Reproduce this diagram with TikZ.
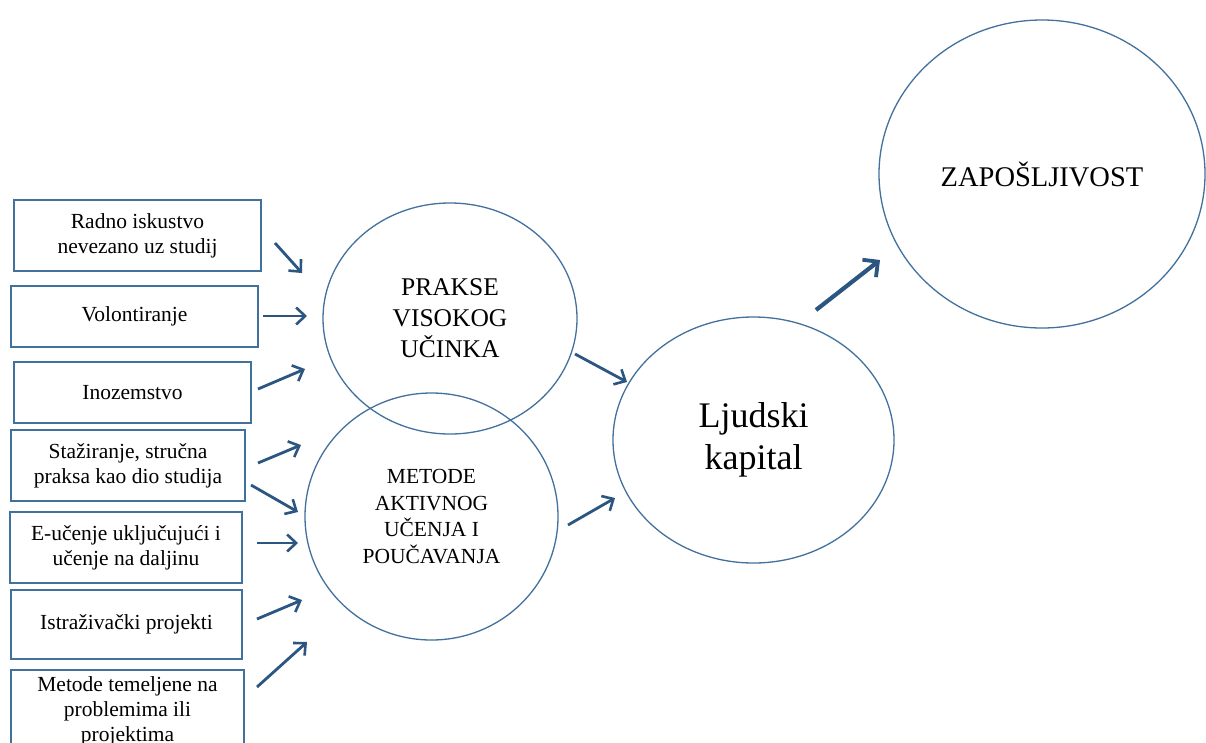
\documentclass[tikz,border=0pt]{standalone}
\usepackage{fontspec}
\setmainfont{Liberation Serif}
\usepackage{xcolor}
\usepackage{tikz}
\usetikzlibrary{arrows.meta,shapes.geometric}

\definecolor{edgeblue}{RGB}{65,113,156}
\definecolor{arrowblue}{RGB}{44,86,130}

\begin{document}
\begin{tikzpicture}[x=1pt, y=-1pt,
    box/.style={draw=edgeblue, line width=1.3pt, rectangle, align=center, inner sep=2pt,
                font=\fontsize{21.5}{25}\selectfont},
    bubble/.style={draw=edgeblue, line width=1.3pt, ellipse, inner sep=0pt, align=center},
    arr/.style={-{Straight Barb[length=9pt, width=17pt, line width=2.6pt]}, line width=2.8pt, arrowblue}]
\clip (0,0) rectangle (1206,742);
\fill[white] (0,0) rectangle (1206,742);
% LEFT: input boxes
\node[box, minimum width=247pt, minimum height=71pt] (radno) at (137.5,235.5) {Radno iskustvo\\nevezano uz studij};
\node[box, minimum width=247pt, minimum height=61pt] (volont) at (134.5,316.5) {Volontiranje};
\node[box, minimum width=237pt, minimum height=61pt] (inozem) at (132.5,392.5) {Inozemstvo};
\node[box, minimum width=234pt, minimum height=71pt] (staz) at (128,465.5) {Stažiranje, stručna\\praksa kao dio studija};
\node[box, minimum width=232pt, minimum height=71pt] (eucenje) at (126,547.5) {E-učenje uključujući i\\učenje na daljinu};
\node[box, minimum width=231pt, minimum height=69pt] (istraz) at (126.5,624.5) {Istraživački projekti};
\node[box, minimum width=233pt, minimum height=82pt] (metprob) at (127.5,711) {Metode temeljene na\\problemima ili\\projektima};
% MIDDLE: the two overlapping circles
\node[bubble, minimum width=254pt, minimum height=231pt,
      font=\fontsize{25.5}{31}\selectfont] (prakse) at (450,318.5) {PRAKSE\\VISOKOG\\UČINKA};
\node[bubble, minimum width=253pt, minimum height=247pt,
      font=\fontsize{21.5}{26.5}\selectfont] (metode) at (431.5,516.5) {METODE\\AKTIVNOG\\UČENJA I\\POUČAVANJA};
% RIGHT: results
\node[bubble, minimum width=281pt, minimum height=246pt,
      font=\fontsize{36}{42}\selectfont] (ljudski) at (753.5,440) {Ljudski\\kapital};
\node[bubble, minimum width=326pt, minimum height=308pt,
      font=\fontsize{28.5}{34}\selectfont] (zapos) at (1042,174) {ZAPOŠLJIVOST};
% arrow ends
\coordinate (radno-out) at (275,243);   \coordinate (prakse-in1) at (302,273);
\coordinate (volont-out) at (263,316);  \coordinate (prakse-in2) at (307,316);
\coordinate (inozem-out) at (258,389);  \coordinate (prakse-in3) at (305,369);
\coordinate (staz-out1) at (258,463);   \coordinate (prakse-in4) at (301,445);
\coordinate (staz-out2) at (251,485);   \coordinate (metode-in1) at (298,512);
\coordinate (eucenje-out) at (257,543); \coordinate (metode-in2) at (298,543);
\coordinate (istraz-out) at (257,619);  \coordinate (metode-in3) at (302,600);
\coordinate (metprob-out) at (257,687); \coordinate (metode-in4) at (307,642);
\coordinate (prakse-out) at (575,354);  \coordinate (ljudski-in1) at (627,382);
\coordinate (metode-out) at (568,525);  \coordinate (ljudski-in2) at (615,498);
\coordinate (ljudski-out) at (816,310); \coordinate (zapos-in) at (880,260);
% arrows
\draw[arr] (radno-out) -- (prakse-in1);
\draw[arr] (volont-out) -- (prakse-in2);
\draw[arr] (inozem-out) -- (prakse-in3);
\draw[arr] (staz-out1) -- (prakse-in4);
\draw[arr] (staz-out2) -- (metode-in1);
\draw[arr] (eucenje-out) -- (metode-in2);
\draw[arr] (istraz-out) -- (metode-in3);
\draw[arr] (metprob-out) -- (metode-in4);
\draw[arr] (prakse-out) -- (ljudski-in1);
\draw[arr] (metode-out) -- (ljudski-in2);
\draw[arr, line width=4.2pt, -{Straight Barb[length=11pt, width=22pt, line width=3.8pt]}] (ljudski-out) -- (zapos-in);
\end{tikzpicture}
\end{document}
